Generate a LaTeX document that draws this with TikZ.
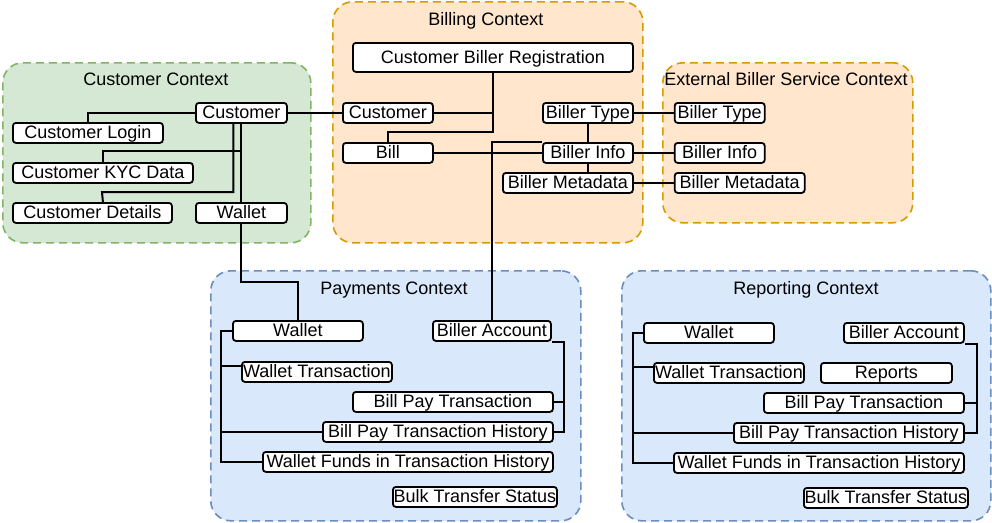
\documentclass[tikz,border=0pt]{standalone}
\usepackage{fontspec}
\setmainfont{Liberation Sans}
\usepackage{tikz}
\usetikzlibrary{positioning}
\definecolor{custfill}{HTML}{D5E8D4}
\definecolor{custline}{HTML}{82B366}
\definecolor{billfill}{HTML}{FFE6CC}
\definecolor{billline}{HTML}{D79B00}
\definecolor{payfill}{HTML}{DAE8FC}
\definecolor{payline}{HTML}{6C8EBF}
\tikzstyle{context} = [rectangle, rounded corners=20pt, dash pattern=on 8pt off 5pt, line width=1.6pt, inner sep=0pt, anchor=north west]
\tikzstyle{title} = [inner sep=0pt, text height=14pt, text depth=2pt, font=\fontsize{18}{20}\selectfont]
\tikzstyle{entity} = [rectangle, rounded corners=3pt, draw=black, fill=white, line width=1.8pt, inner sep=0pt, minimum height=20pt, text height=14pt, text depth=2pt, font=\fontsize{18}{20}\selectfont, anchor=north west]
\tikzstyle{link} = [line width=2pt]

\begin{document}
\begin{tikzpicture}[x=1pt, y=-1pt]
\useasboundingbox (0,0) rectangle (992,522);
\node (custctx) [context, fill=custfill, draw=custline, minimum width=308pt, minimum height=180pt] at (2,62) {};
\node (custttl) [title] at (156,79) {Customer Context};
\node (c_cust) [entity, minimum width=91pt] at (195,102) {Customer};
\node (c_login) [entity, minimum width=150pt] at (12,122) {Customer Login};
\node (c_kyc) [entity, minimum width=180pt] at (12,162) {Customer KYC Data};
\node (c_det) [entity, minimum width=159pt] at (12,202) {Customer Details};
\node (c_wallet) [entity, minimum width=91pt] at (195,202) {Wallet};

\node (billctx) [context, fill=billfill, draw=billline, minimum width=310pt, minimum height=241pt] at (332,1) {};
\node (billttl) [title] at (486,19) {Billing Context};
\node (b_cbr) [entity, minimum width=280pt, minimum height=29pt] at (352,42) {Customer Biller Registration};
\node (b_cust) [entity, minimum width=90pt] at (342,102) {Customer};
\node (b_bill) [entity, minimum width=90pt] at (342,142) {Bill};
\node (b_btype) [entity, minimum width=90pt] at (542,102) {Biller Type};
\node (b_binfo) [entity, minimum width=90pt] at (542,142) {Biller Info};
\node (b_bmeta) [entity, minimum width=130pt] at (502,172) {Biller Metadata};

\node (extctx) [context, fill=billfill, draw=billline, minimum width=250pt, minimum height=160pt] at (662,62) {};
\node (extttl) [title] at (786,79) {External Biller Service Context};
\node (e_btype) [entity, minimum width=90pt, right=40pt of b_btype] {Biller Type};
\node (e_binfo) [entity, minimum width=90pt, right=40pt of b_binfo] {Biller Info};
\node (e_bmeta) [entity, minimum width=130pt, right=40pt of b_bmeta] {Biller Metadata};

\node (payctx) [context, fill=payfill, draw=payline, minimum width=370pt, minimum height=250pt] at (210,270) {};
\node (payttl) [title] at (394,288) {Payments Context};
\node (p_wallet) [entity, minimum width=130pt] at (232,320) {Wallet};
\node (p_ba) [entity, minimum width=118pt] at (432,320) {Biller Account};
\node (p_wt) [entity, minimum width=150pt] at (241,361) {Wallet Transaction};
\node (p_bpt) [entity, minimum width=200pt] at (352,391) {Bill Pay Transaction};
\node (p_bpth) [entity, minimum width=230pt] at (322,421) {Bill Pay Transaction History};
\node (p_wfth) [entity, minimum width=290pt] at (262,451) {Wallet Funds in Transaction History};
\node (p_bts) [entity, minimum width=164pt] at (392,486) {Bulk Transfer Status};
\coordinate (p_trunk) at ([xshift=-11pt]p_wallet.west);

\node (repctx) [context, fill=payfill, draw=payline, minimum width=369pt, minimum height=250pt] at (621,270) {};
\node (repttl) [title] at (806,288) {Reporting Context};
\node (r_wallet) [entity, minimum width=130pt] at (643,322) {Wallet};
\node (r_ba) [entity, minimum width=120pt] at (843,322) {Biller Account};
\node (r_wt) [entity, minimum width=150pt] at (653,362) {Wallet Transaction};
\node (r_rep) [entity, minimum width=131pt] at (820,362) {Reports};
\node (r_bpt) [entity, minimum width=200pt] at (763,392) {Bill Pay Transaction};
\node (r_bpth) [entity, minimum width=230pt] at (733,422) {Bill Pay Transaction History};
\node (r_wfth) [entity, minimum width=290pt] at (673,452) {Wallet Funds in Transaction History};
\node (r_bts) [entity, minimum width=164pt] at (803,487) {Bulk Transfer Status};
\coordinate (r_trunk) at ([xshift=-10pt]r_wallet.west);

\draw [link] (c_cust.west) -| (c_login.north);
\draw [link] (c_cust.south) |- ([yshift=11pt]c_kyc.north) -- (c_kyc.north);
\draw [link] ([xshift=-8pt]c_cust.south) |- (102,192) -- (c_det.north -| c_kyc.north);
\draw [link] (c_cust) -- (c_wallet);
\draw [link] (c_wallet.south) -- ++(0,58) -| (p_wallet.north);
\draw [link] (c_cust) -- (b_cust);

\draw [link] (b_cbr.south) |- ([yshift=10pt]b_bill.north) -- (b_bill.north);
\draw [link] (b_cust.east) -- (b_cust.east -| b_cbr.south);
\draw [link] (b_bill) -- (b_binfo);
\draw [link] (b_btype) -- (b_binfo);
\draw [link] (b_binfo.south) -- (b_binfo.south |- b_bmeta.north);
\draw [link] (b_btype) -- (e_btype);
\draw [link] (b_binfo) -- (e_binfo);
\draw [link] (b_bmeta) -- (e_bmeta);
\draw [link] (p_ba.north) |- (b_binfo.north west);

\draw [link] (p_wallet.west) -- (p_trunk) |- (p_wfth.west);
\draw [link] ([yshift=6pt]p_wt.west) -- ++(-20,0);
\draw [link] (p_bpth.west) -- (p_bpth.west -| p_trunk);
\draw [link] (p_ba.south east) -- ++(12,0) |- (p_bpth.east);
\draw [link] (p_bpt.east) -- ++(10,0);

\draw [link] (r_wallet.west) -- (r_trunk) |- (r_wfth.west);
\draw [link] ([yshift=6pt]r_wt.west) -- ++(-20,0);
\draw [link] (r_bpth.west) -- (r_bpth.west -| r_trunk);
\draw [link] (r_ba.south east) -- ++(12,0) |- (r_bpth.east);
\draw [link] (r_bpt.east) -- ++(12,0);
\end{tikzpicture}
\end{document}
